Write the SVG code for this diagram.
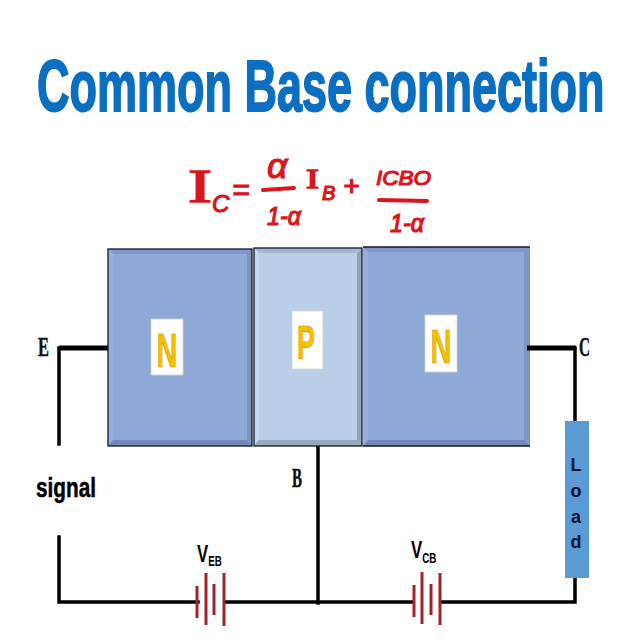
<svg xmlns="http://www.w3.org/2000/svg" width="640" height="640" viewBox="0 0 640 640">
<style>
.wire{fill:none;stroke:#000;stroke-width:3.5;stroke-linecap:square}
.thick{fill:none;stroke:#000;stroke-width:5}
.cell{stroke:#a02528;stroke-width:3;fill:none}
.lab{font-family:"Liberation Sans",Arial,sans-serif;font-weight:bold;fill:#000}
.ser{font-family:"Liberation Serif",serif;font-weight:bold;fill:#111;stroke:#111;stroke-width:.5}
.letter{font-family:"Liberation Sans",Arial,sans-serif;font-weight:bold;fill:#f5c000;stroke:#b58f10;stroke-width:.6;text-anchor:middle}
.hand{font-family:"Liberation Sans",Arial,sans-serif;font-style:italic;fill:#d9161c;stroke:#d9161c;stroke-width:1.2}
.handi{font-family:"Liberation Serif",serif;fill:#d9161c;stroke:#d9161c;stroke-width:1.4}
.bar{stroke:#d9161c;stroke-width:4;stroke-linecap:round;fill:none}
.tag{fill:#fff;stroke:#d8d2c8;stroke-width:.8}
.edge{stroke:#10182a;stroke-width:1.3;fill:none}
</style>
<rect width="640" height="640" fill="#fff"/>
<text id="title" transform="translate(37 111) scale(.625 1)" font-family="'Liberation Sans',Arial,sans-serif" font-weight="bold" font-size="72" fill="#0b6fc1" stroke="#0b6fc1" stroke-width="1.8">Common Base connection</text>
<g id="formula">
<text class="handi" x="188" y="202" font-size="46" textLength="24" lengthAdjust="spacingAndGlyphs">I</text>
<text class="hand" x="212" y="212" font-size="24">C</text>
<text class="hand" x="232" y="200" font-size="30">=</text>
<text class="hand" x="267" y="178" font-size="36">α</text>
<line class="bar" x1="263" y1="190" x2="294" y2="188"/>
<text class="hand" x="267" y="225" font-size="25" textLength="34" lengthAdjust="spacingAndGlyphs">1-α</text>
<text class="handi" x="306" y="188" font-size="28" textLength="13" lengthAdjust="spacingAndGlyphs">I</text>
<text class="hand" x="322" y="200" font-size="20">B</text>
<text class="hand" x="343" y="195" font-size="28">+</text>
<text class="hand" x="376" y="185" font-size="21" textLength="55" lengthAdjust="spacingAndGlyphs">ICBO</text>
<line class="bar" x1="379" y1="200" x2="427" y2="201"/>
<text class="hand" x="390" y="232" font-size="25" textLength="34" lengthAdjust="spacingAndGlyphs">1-α</text>
</g>
<g id="connectors">
<path class="thick" d="M59 348H108"/>
<path class="wire" d="M59 348V444"/>
<path class="wire" d="M59 537V602H198"/>
<path class="wire" d="M226 602H412"/>
<path class="wire" d="M441 602H575V577"/>
<path class="wire" d="M575 348V421"/>
<path class="wire" d="M318 447V603"/>
</g>
<g id="emitter-n">
<rect x="108" y="249" width="144" height="197" fill="#8ea9d8"/>
<path d="M108 249h144l-5 5H113z" fill="#8199c6"/>
<path d="M108 249l5 5V440l-5 6z" fill="#95b0e0"/>
<path d="M108 446l5-6H247l5 6z" fill="#7389b5"/>
<path d="M252 249l-5 5V440l5 6z" fill="#7f95bf"/>
<rect x="108" y="249" width="144" height="197" class="edge"/>
<rect class="tag" x="151" y="319" width="32" height="56"/>
<text class="letter" x="167" y="367" font-size="48" textLength="21" lengthAdjust="spacingAndGlyphs">N</text>
</g>
<g id="base-p">
<rect x="254" y="248" width="108" height="198" fill="#b8cfe7"/>
<path d="M254 248h108l-5 5H259z" fill="#a3b8cf"/>
<path d="M254 248l5 5V440l-5 6z" fill="#c4d9ee"/>
<path d="M254 446l5-6H357l5 6z" fill="#95a9bf"/>
<path d="M362 248l-5 5V440l5 6z" fill="#8fa4ba"/>
<rect x="254" y="248" width="108" height="198" class="edge"/>
<rect class="tag" x="292" y="311" width="31" height="58"/>
<text class="letter" x="306" y="359" font-size="48" textLength="18" lengthAdjust="spacingAndGlyphs">P</text>
</g>
<g id="collector-n">
<rect x="363" y="247" width="167" height="199" fill="#8ea9d8"/>
<path d="M363 247h167l-6 5H368z" fill="#8199c6"/>
<path d="M363 247l5 5V440l-5 6z" fill="#95b0e0"/>
<path d="M363 446l5-6H524l6 6z" fill="#7389b5"/>
<path d="M530 247l-6 5V440l6 6z" fill="#7f95bf"/>
<path d="M363 247H530M363 446H530" class="edge"/>
<rect class="tag" x="425" y="315" width="32" height="57"/>
<text class="letter" x="441" y="363" font-size="48" textLength="21" lengthAdjust="spacingAndGlyphs">N</text>
<path class="thick" d="M527 348H576"/>
</g>
<g id="load">
<rect x="565" y="421" width="24" height="157" fill="#5b9bd5"/>
<g class="lab" font-size="18" text-anchor="middle">
<text x="576" y="471" fill="#0a1030">L</text>
<text x="576" y="497" fill="#0a1030">o</text>
<text x="576" y="523" fill="#0a1030">a</text>
<text x="576" y="548" fill="#0a1030">d</text>
</g>
</g>
<g id="battery-eb">
<path class="cell" d="M197 586V618M206 573V625M214 584V615M224 573V626"/>
<text class="lab" transform="translate(197 562) scale(.7 1)" font-size="24">V<tspan font-size="14" dy="4">EB</tspan></text>
</g>
<g id="battery-cb">
<path class="cell" d="M414 585V617M422 572V624M431 584V615M440 573V625"/>
<text class="lab" transform="translate(411 558) scale(.7 1)" font-size="24">V<tspan font-size="14" dy="5">CB</tspan></text>
</g>
<text id="label-e" class="ser" x="38" y="356" font-size="27" textLength="11" lengthAdjust="spacingAndGlyphs">E</text>
<text id="label-c" class="ser" x="579" y="356" font-size="27" textLength="11" lengthAdjust="spacingAndGlyphs">C</text>
<text id="label-b" class="ser" x="292" y="487" font-size="27" textLength="10" lengthAdjust="spacingAndGlyphs">B</text>
<text id="label-signal" class="lab" x="36" y="497" font-size="27" textLength="60" lengthAdjust="spacingAndGlyphs" stroke="#000" stroke-width=".5">signal</text>
</svg>
